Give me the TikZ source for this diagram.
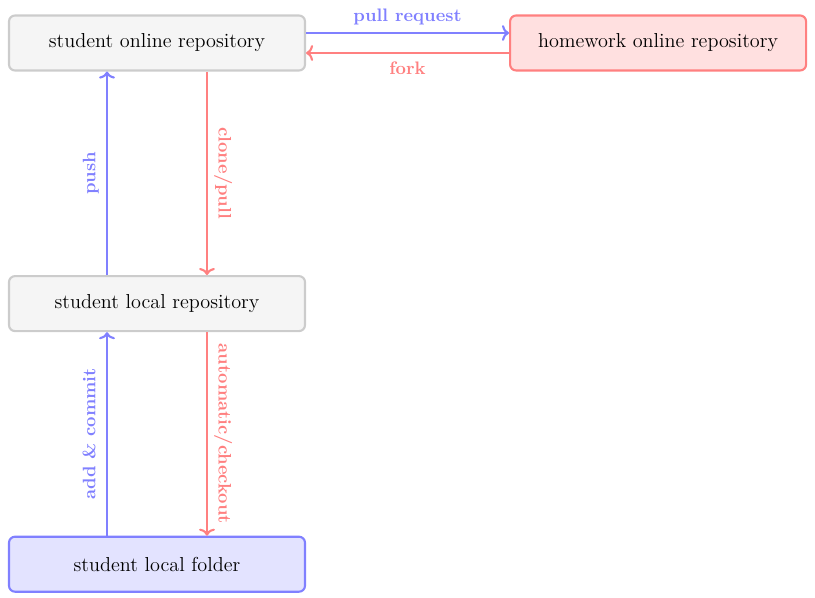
\documentclass[tikz,border=0pt]{standalone}
\usepackage{amsmath}
\usepackage{tikz}
\usetikzlibrary{arrows,arrows.meta,positioning}
\tikzset{%
  repo/.style={rectangle,rounded corners=0.12cm,draw=black!20,fill=black!4,very thick,minimum width=5.92cm,minimum height=1.10cm,font=\fontsize{11.5}{13}\selectfont},
  hw/.style={repo,draw=red!50,fill=red!12},
  work/.style={repo,draw=blue!50,fill=blue!11},
  up/.style={->,draw=blue!50,very thick},
  down/.style={->,draw=red!50,very thick},
  lbl/.style={font=\fontsize{10.3}{12}\bfseries\selectfont,inner sep=5pt,text height=1.5ex,text depth=0.25ex}%
}

\begin{document}
\begin{tikzpicture}[node distance=4.07cm, >={To[length=4pt,width=9pt]}]
      \useasboundingbox (0,0) rectangle (16.3,-11.96);

      \node (stu_online) [repo] at (3.14,-0.86) {student online repository};
      \node (hw_online) [hw, right=4.06cm of stu_online] {homework online repository};
      \node (stu_local) [repo, below=of stu_online] {student local repository};
      \node (stu_folder) [work, below=of stu_local] {student local folder};

      \path ([yshift=0.2cm]stu_online.east) edge[up] node[lbl, text=blue!50, anchor=south] {pull request} ([yshift=0.2cm]hw_online.west)
            ([yshift=-0.2cm]hw_online.west) edge[down] node[lbl, text=red!50, anchor=north] {fork} ([yshift=-0.2cm]stu_online.east);

      \path ([xshift=-1cm]stu_local.north) edge[up] node[lbl, text=blue!50, rotate=90, anchor=south] {push} ([xshift=-1cm]stu_online.south)
            ([xshift=1cm]stu_online.south) edge[down] node[lbl, text=red!50, rotate=-90, anchor=south] {clone/pull} ([xshift=1cm]stu_local.north);

      \path ([xshift=-1cm]stu_folder.north) edge[up] node[lbl, text=blue!50, rotate=90, anchor=south] {add \& commit} ([xshift=-1cm]stu_local.south)
            ([xshift=1cm]stu_local.south) edge[down] node[lbl, text=red!50, rotate=-90, anchor=south] {automatic/checkout} ([xshift=1cm]stu_folder.north);
    \end{tikzpicture}
\end{document}
